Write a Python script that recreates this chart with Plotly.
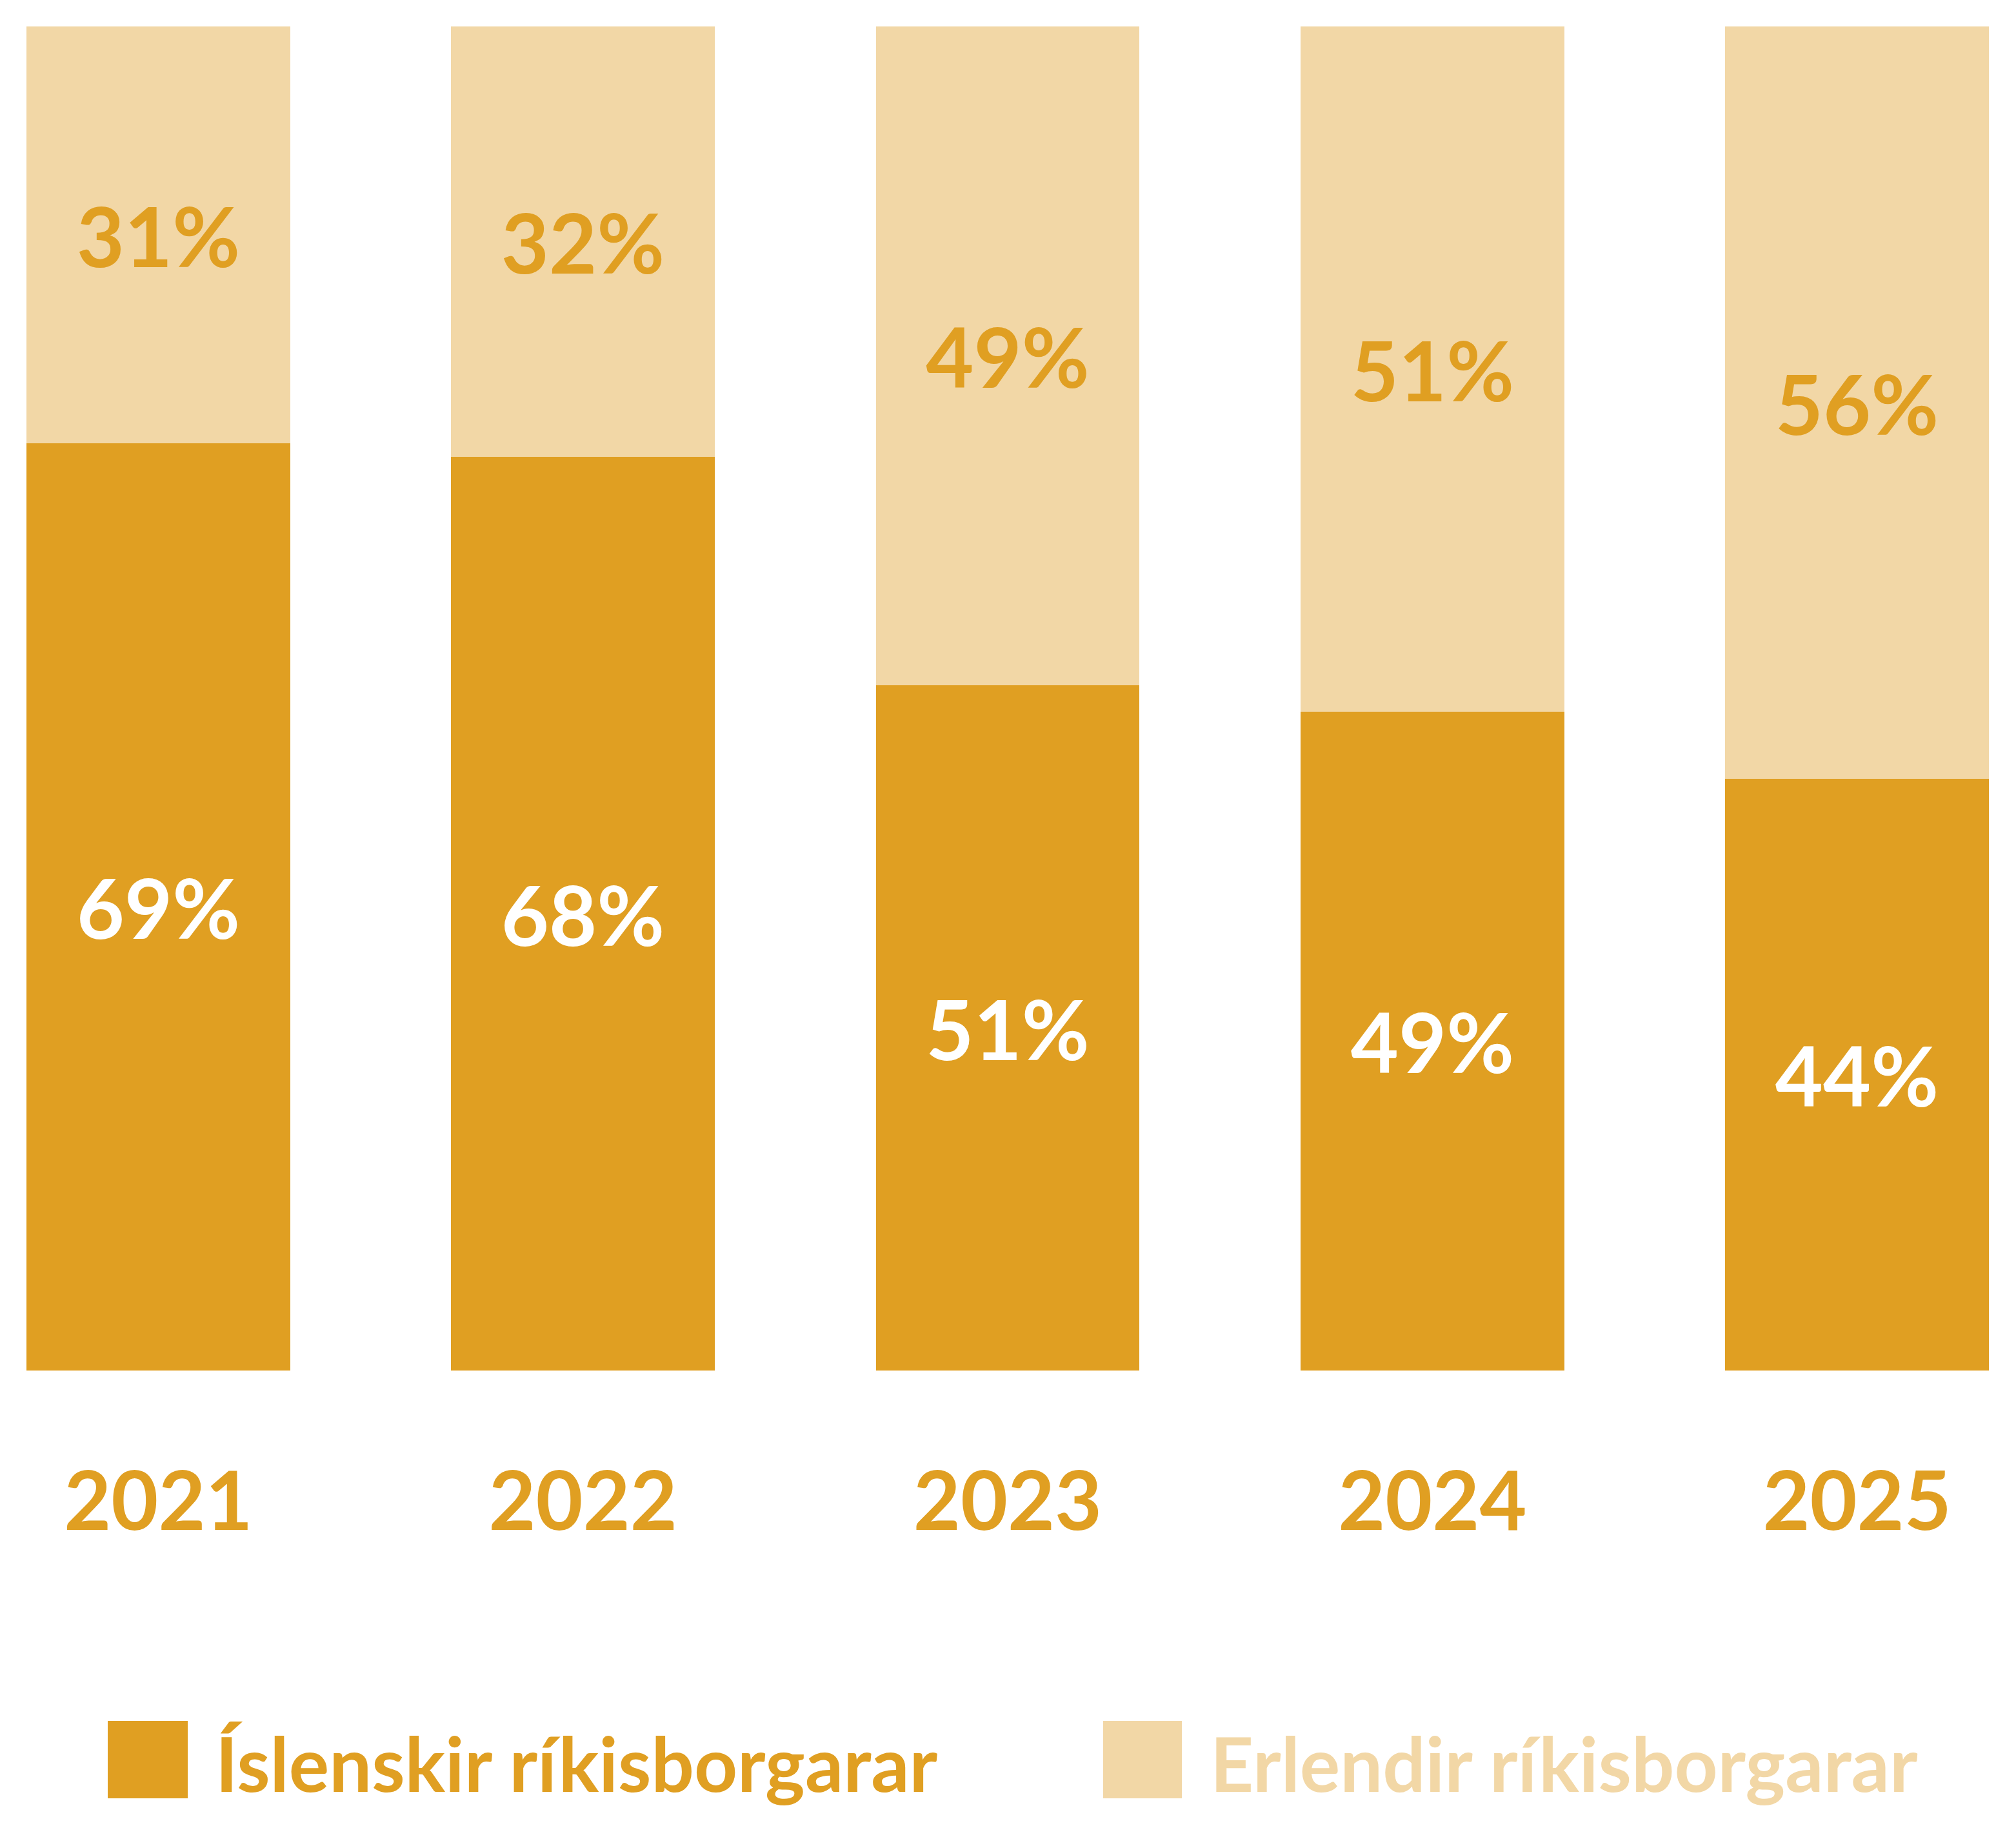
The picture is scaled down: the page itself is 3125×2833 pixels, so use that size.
import plotly.graph_objects as go

years = ["2021", "2022", "2023", "2024", "2025"]
icelandic = [69, 68, 51, 49, 44]
foreign = [31, 32, 49, 51, 56]
series_names = ["Íslenskir ríkisborgarar", "Erlendir ríkisborgarar"]
dark = "#E09F22"
light = "#F2D7A6"

W, H = 3125, 2833
ml, mr, mt, mb = 41, 42, 41, 709
pw = W - ml - mr
ph = H - mt - mb

def px_x(x):
    return (x - ml) / pw

def px_y(y):
    return (H - mb - y) / ph

FONT = "Lato"
fig = go.Figure()
fig.add_trace(go.Bar(
    x=years, y=icelandic, name=series_names[0], marker=dict(color=dark, line=dict(width=0)),
    text=[f"{v}%" for v in icelandic], textposition="inside", insidetextanchor="middle",
    textangle=0, constraintext="none",
    textfont=dict(family=FONT, size=128, color="white", weight="bold"),
    width=0.621, hoverinfo="skip",
))
fig.add_trace(go.Bar(
    x=years, y=foreign, name=series_names[1], marker=dict(color=light, line=dict(width=0)),
    text=[f"{v}%" for v in foreign], textposition="inside", insidetextanchor="middle",
    textangle=0, constraintext="none",
    textfont=dict(family=FONT, size=128, color=dark, weight="bold"),
    width=0.621, hoverinfo="skip",
))

# manual legend
legend_items = [
    (series_names[0], dark, 167, 291, 332),
    (series_names[1], light, 1710, 1832, 1874),
]
for name, col, x0, x1, tx in legend_items:
    fig.add_shape(type="rect", xref="paper", yref="paper",
                  x0=px_x(x0), x1=px_x(x1), y0=px_y(2787), y1=px_y(2667),
                  fillcolor=col, line=dict(width=0))
    fig.add_annotation(text=name, xref="paper", yref="paper", x=px_x(tx), y=px_y(2732),
                       xanchor="left", yanchor="middle", showarrow=False,
                       font=dict(family=FONT, size=117, color=col, weight="bold"))

fig.update_layout(
    width=W, height=H, barmode="stack", bargap=0,
    margin=dict(l=ml, r=mr, t=mt, b=mb, pad=0),
    paper_bgcolor="white", plot_bgcolor="white",
    showlegend=False,
    xaxis=dict(type="category", range=[-0.3105, 4.3105], showgrid=False, zeroline=False,
               showline=False, ticks="", ticklabelstandoff=120,
               tickfont=dict(family=FONT, size=126, color=dark, weight="bold")),
    yaxis=dict(range=[0, 100], visible=False, showgrid=False, zeroline=False),
    uniformtext=dict(mode=False),
)
fig.write_html("out.html")
